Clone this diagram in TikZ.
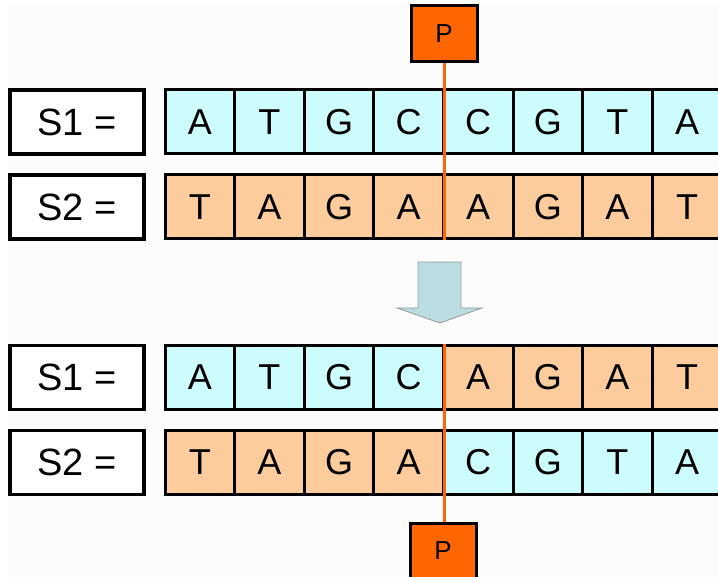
\documentclass[tikz,border=0pt]{standalone}
\usepackage{fontspec}
\setmainfont{Liberation Sans}
\definecolor{cyancell}{HTML}{CCFCFC}
\definecolor{peachcell}{HTML}{FCCC9C}
\definecolor{porange}{HTML}{FF6600}
\definecolor{arrowfill}{HTML}{BADDE2}
\definecolor{bggray}{HTML}{FCFCFC}
\begin{document}
\begin{tikzpicture}[x=1pt,y=-1pt,
  lbl/.style={draw=black,line width=3.5pt,fill=white,minimum width=134pt,minimum height=64pt,inner sep=0pt,font=\fontsize{38}{42}\selectfont},
  cell/.style={draw=black,line width=3pt,minimum width=69.6pt,minimum height=64pt,inner sep=0pt,font=\fontsize{36}{40}\selectfont},
  cy/.style={cell,fill=cyancell},
  pe/.style={cell,fill=peachcell},
  pbox/.style={draw=black,line width=3pt,fill=porange,minimum width=66pt,minimum height=56pt,inner sep=0pt,font=\fontsize{26}{28}\selectfont},
  cut/.style={draw=porange,line width=3pt}]
\useasboundingbox (0,0) rectangle (718,577);
\fill[bggray] (8,5) rectangle (718,577);
% label boxes
\node[lbl] (l1) at (77,122) {S1 =};
\node[lbl] (l2) at (77,207) {S2 =};
\node[lbl] (l3) at (77,377.5) {S1 =};
\node[lbl] (l4) at (77,462.5) {S2 =};
% top rows
\foreach \b [count=\i] in {A,T,G,C,C,G,T,A}
  \node[cy] (a\i) at ({165+69.6*(\i-0.5)},122) {\b};
\foreach \b [count=\i] in {T,A,G,A,A,G,A,T}
  \node[pe] (b\i) at ({165+69.6*(\i-0.5)},207) {\b};
% bottom rows
\foreach \b/\s [count=\i] in {A/cy,T/cy,G/cy,C/cy,A/pe,G/pe,A/pe,T/pe}
  \node[\s] (c\i) at ({165+69.6*(\i-0.5)},377.5) {\b};
\foreach \b/\s [count=\i] in {T/pe,A/pe,G/pe,A/pe,C/cy,G/cy,T/cy,A/cy}
  \node[\s] (d\i) at ({165+69.6*(\i-0.5)},462.5) {\b};
% crossover points
\node[pbox] (p1) at (444,33.5) {P};
\node[pbox] (p2) at (443,551) {P};
\draw[cut] (p1.south) -- (p1.south |- b4.south east);
\draw[cut] (c4.north east) -- (c4.north east |- p2.north);
% arrow
\draw[draw=gray!80,line width=0.8pt,fill=arrowfill]
  (418,262) -- (461,262) -- (461,308) -- (482,308) -- (440,323) -- (397,308) -- (418,308) -- cycle;
\end{tikzpicture}
\end{document}
